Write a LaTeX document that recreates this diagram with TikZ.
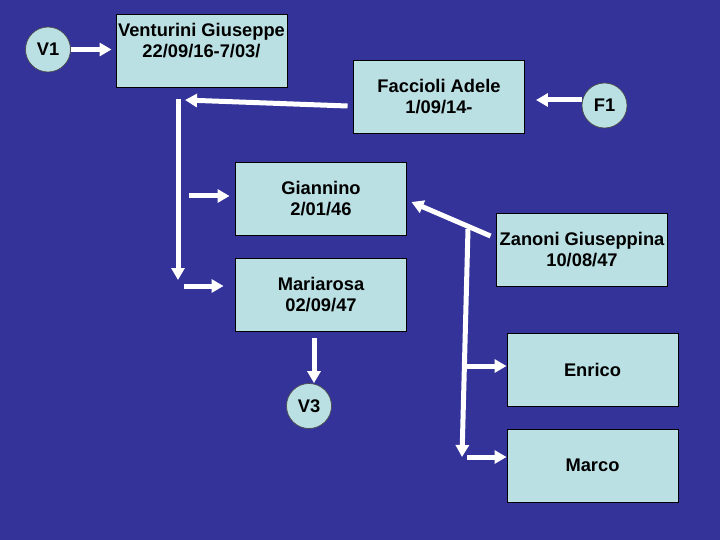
\documentclass[tikz,border=0pt]{standalone}
\usepackage{fontspec}
\setmainfont{Liberation Sans}
\usetikzlibrary{arrows.meta,calc}
\definecolor{bg}{HTML}{333399}
\definecolor{boxc}{HTML}{BBE0E3}
\begin{document}
\begin{tikzpicture}[x=1pt,y=-1pt,
  txt/.style={font=\fontsize{18.3}{21}\selectfont\bfseries},
  box/.style={txt,draw=black,line width=0.9pt,fill=boxc,minimum width=171pt,minimum height=73pt,inner sep=0pt,align=center},
  circ/.style={txt,circle,draw=black!70,line width=0.7pt,fill=boxc,minimum size=45pt,inner sep=0pt},
  arr/.style={draw=white,line width=5pt,-{Triangle[width=13pt,length=12pt]}}]
\fill[bg] (0,0) rectangle (720,540);
\useasboundingbox (0,0) rectangle (720,540);

\node[box] (ven) at (201.5,51) {Venturini Giuseppe\\22/09/16-7/03/\\\mbox{}};
\node[box] (fac) at (439,97) {Faccioli Adele\\1/09/14-};
\node[box] (gia) at (321,199) {Giannino\\2/01/46};
\node[box] (mar) at (321,295) {Mariarosa\\02/09/47};
\node[box] (zan) at (582,249.5) {Zanoni Giuseppina\\10/08/47};
\node[box] (enr) at (592.5,369.5) {Enrico};
\node[box] (mrc) at (592.5,465.5) {Marco};

\node[circ] (v1) at (48,49.5) {V1};
\node[circ] (f1) at (604.5,105.5) {F1};
\node[circ] (v3) at (309,406) {V3};

\coordinate (jt) at (185,100);
\coordinate (jtl) at (178,99);
\coordinate (jbl) at (178,280);
\coordinate (g0) at (189,196);
\coordinate (m0) at (184,286);
\coordinate (rt) at (468,229);
\coordinate (rb) at (462,457);
\coordinate (e0) at (467,366);
\coordinate (k0) at (467,457);

\draw[arr] (v1.east) -- ([xshift=-4pt]ven.west |- v1.east);
\draw[arr] ([yshift=5.5pt]f1.west) -- ([xshift=11pt,yshift=-3pt]fac.east);
\draw[arr] ($(fac.west)+(-5.5,9)$) -- (jt);
\draw[arr] (jtl) -- (jbl);
\draw[arr] (g0) -- ([xshift=-5.5pt]gia.west |- g0);
\draw[arr] (m0) -- ([xshift=-11.5pt]mar.west |- m0);
\coordinate (v3a) at ($(mar.south)+(-7,6)$);
\draw[arr] (v3a) -- (v3a |- v3.north);
\draw[arr] ($(zan.west)+(-5.5,-13.5)$) -- ($(gia.east)+(4.5,3)$);
\draw[arr] (rt) -- (rb);
\draw[arr] (e0) -- (enr.west |- e0);
\draw[arr] (k0) -- (mrc.west |- k0);
\end{tikzpicture}
\end{document}
